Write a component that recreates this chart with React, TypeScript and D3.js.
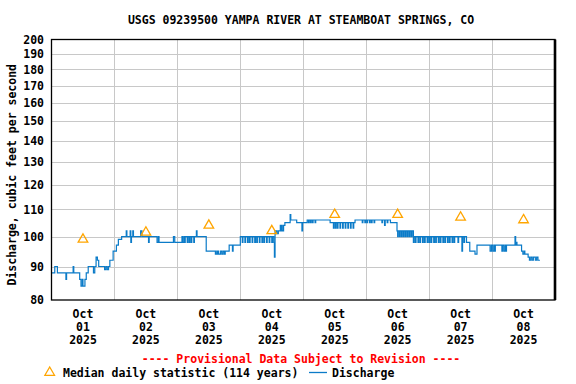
import React from 'react';
import * as d3 from 'd3';

// chart text
const title = 'USGS 09239500 YAMPA RIVER AT STEAMBOAT SPRINGS, CO';
const yTitle = 'Discharge, cubic feet per second';
const provisional = '---- Provisional Data Subject to Revision ----';
const medianLabel = 'Median daily statistic (114 years)';
const flowLabel = 'Discharge';

// axes
const yTicks = [80, 90, 100, 110, 120, 130, 140, 150, 160, 170, 180, 190, 200];
const monthLabel = 'Oct';
const dayLabels = ['01', '02', '03', '04', '05', '06', '07', '08'];
const yearLabel = '2025';

// median daily statistic, one per day (cfs)
const medianCfs = [99, 101.5, 104, 102, 108, 108, 107, 106];

// discharge, step changes as [hour of day, cfs]
const oct01 = [[0, 88], [1.25, 90], [2.25, 88], [5.5, 86], [5.75, 88], [8.25, 90], [8.5, 88], [10.75, 86], [11.25, 84], [11.75, 86], [12, 84], [12.75, 86], [13.25, 88], [14, 90], [16, 88], [16.5, 90], [17, 93], [17.5, 92], [18, 90], [20.25, 89], [20.75, 90], [21.25, 89], [21.75, 90], [22.25, 92], [23.5, 95]];
const oct02 = [[0.75, 97], [1.5, 99], [2.75, 100], [4.5, 102], [4.75, 100], [6, 102], [6.25, 98], [6.5, 100], [7, 102], [7.25, 100], [10, 102], [10.5, 100], [13, 98], [13.25, 100], [16.25, 98], [16.75, 100], [17, 98], [22.5, 100], [23, 98]];
const oct03 = [[1.75, 100], [2, 98], [2.5, 100], [2.75, 98], [3, 100], [3.75, 98], [4, 100], [4.5, 98], [4.75, 100], [5.25, 98], [5.5, 100], [6.25, 98], [6.5, 100], [7.25, 102], [7.5, 100], [11, 95], [14.5, 94], [15, 95], [15.25, 94], [15.5, 95], [15.75, 94], [16.5, 95], [17, 94], [17.5, 95], [18, 94], [18.25, 95], [19.75, 97], [21, 95], [21.25, 97]];
const oct04 = [[0, 100], [0.75, 98], [1, 100], [1.75, 98], [2, 100], [2.75, 98], [3, 100], [3.5, 98], [3.75, 100], [4.5, 98], [4.75, 100], [5.5, 98], [5.75, 100], [6.25, 98], [6.5, 100], [7.25, 98], [7.5, 100], [8.25, 98], [8.5, 100], [9, 98], [9.25, 100], [10, 98], [10.25, 100], [11, 98], [11.25, 100], [12, 98], [12.25, 100], [12.75, 98], [13, 93], [13.25, 102], [13.5, 101], [13.75, 102], [14, 101], [14.5, 102], [15.25, 104], [15.5, 102], [15.75, 104], [16, 102], [16.5, 104], [17, 105], [19, 108], [19.25, 106], [21.5, 105], [23.5, 102], [23.75, 105]];
const oct05 = [[1.5, 106], [2, 105], [2.25, 106], [2.75, 105], [3, 106], [3.5, 105], [3.75, 106], [4.5, 105], [4.75, 106], [10.25, 105], [11.5, 103], [11.75, 105], [12.25, 103], [12.5, 105], [13, 103], [13.25, 105], [14, 103], [14.25, 105], [15, 103], [15.25, 105], [16, 103], [16.25, 105], [17, 103], [17.25, 105], [18, 103], [18.25, 105], [19, 103], [19.25, 105], [19.75, 106], [22.5, 105], [22.75, 106], [23.5, 105], [23.75, 106]];
const oct06 = [[0.25, 105], [0.5, 106], [1.25, 105], [1.5, 106], [2, 105], [2.25, 106], [3, 105], [3.25, 106], [6, 105], [6.25, 106], [7, 104], [7.25, 106], [8, 105], [8.25, 106], [9.25, 105], [11.75, 102], [12, 100], [12.25, 102], [12.75, 100], [13, 102], [13.5, 100], [13.75, 102], [14.25, 100], [14.5, 102], [15, 100], [15.25, 102], [15.75, 100], [16, 102], [16.5, 100], [16.75, 102], [17.25, 100], [17.5, 102], [18, 98], [18.25, 100], [18.75, 98], [19, 100], [19.75, 98], [20, 100], [20.5, 98], [20.75, 100], [21.5, 98], [21.75, 100], [22.25, 98], [22.5, 100], [23.25, 98], [23.5, 100]];
const oct07 = [[0, 98], [0.25, 100], [0.75, 98], [1, 100], [1.75, 98], [2, 100], [2.5, 98], [2.75, 100], [3.5, 98], [3.75, 100], [4.25, 98], [4.5, 100], [5.25, 98], [5.5, 100], [6, 98], [6.25, 100], [7, 98], [7.25, 100], [7.75, 98], [8, 100], [8.75, 98], [9, 100], [9.5, 98], [9.75, 100], [11, 98], [11.25, 100], [12.5, 95], [12.75, 100], [13.25, 98], [13.5, 100], [14.25, 98], [15.5, 95], [17.5, 94], [18.25, 97], [23.25, 95], [23.75, 97]];
const oct08 = [[0.25, 95], [0.75, 97], [1, 95], [1.25, 97], [3.75, 95], [4, 97], [4.5, 95], [5, 97], [5.25, 95], [5.5, 97], [8.75, 100], [9, 97], [9.25, 98], [9.5, 97], [11.25, 95], [11.75, 94], [12.25, 95], [12.5, 94], [13.75, 93], [14.25, 92], [14.75, 93], [15.25, 92], [15.75, 93], [16.5, 92], [17, 93], [17.5, 92], [18.25, 92]];
const dailyFlow = [oct01, oct02, oct03, oct04, oct05, oct06, oct07, oct08];

const W = 576, H = 384;
const left = 51.5, right = 555, top = 39.5, bottom = 300;
const font = "'DejaVu Sans Mono', 'Liberation Mono', monospace";
const blue = '#0b7bc8';
const orange = '#ffa500';

const start = new Date(Date.UTC(2025, 9, 1));
const end = new Date(Date.UTC(2025, 9, 9));

type Pt = { t: Date; v: number };

const App = () => {
  const x = d3.scaleUtc().domain([start, end]).range([left, right]);
  const y = d3.scaleLog().domain([80, 200]).range([bottom, top]);

  const flow: Pt[] = dailyFlow.flatMap((day, i) =>
    day.map(([h, v]) => ({ t: d3.utcMinute.offset(start, Math.round((i * 24 + h) * 60)), v }))
  );
  const line = d3.line<Pt>().x(d => x(d.t)).y(d => y(d.v)).curve(d3.curveStepAfter);

  const days = d3.utcDay.range(start, end);
  const noon = (d: Date) => d3.utcHour.offset(d, 12);
  const tri = d3.symbol().type(d3.symbolTriangle).size(40)();

  return (
    <div style={{ position: 'absolute', left: 0, top: 0 }}>
      <svg width={W} height={H} style={{ display: 'block', background: '#fff' }}
        fontFamily={font} fontWeight="bold" fontSize={11.5}>
        <text x={301} y={24} textAnchor="middle" fill="#000">{title}</text>

        {/* grid */}
        {yTicks.slice(1, -1).map(t => (
          <line key={'h' + t} x1={left} x2={right} y1={Math.round(y(t)) + 0.5} y2={Math.round(y(t)) + 0.5}
            stroke="#c8c8c8" strokeWidth={1} />
        ))}
        {days.slice(1).map(d => (
          <line key={'v' + d.getTime()} x1={Math.round(x(d)) + 0.5} x2={Math.round(x(d)) + 0.5} y1={top} y2={bottom}
            stroke="#c8c8c8" strokeWidth={1} />
        ))}

        {/* discharge */}
        <path d={line(flow) || ''} fill="none" stroke={blue} strokeWidth={1.2} />

        {/* medians */}
        {medianCfs.map((m, i) => (
          <path key={'m' + i} d={tri || ''} transform={`translate(${x(noon(days[i]))},${y(m)})`}
            fill="none" stroke={orange} strokeWidth={1.3} />
        ))}

        {/* frame */}
        <rect x={left} y={top} width={right - left} height={bottom - top} fill="none" stroke="#000" strokeWidth={1.3} />
        <line x1={right} x2={right} y1={top} y2={bottom} stroke="#000" strokeWidth={2.6} />

        {/* y axis */}
        {yTicks.map(t => (
          <text key={'y' + t} x={44} y={y(t)} dy="0.36em" textAnchor="end" fill="#000">{t}</text>
        ))}
        <text transform={`translate(15.5,${(top + bottom) / 2 + 5}) rotate(-90)`} textAnchor="middle" fill="#000">{yTitle}</text>

        {/* x axis */}
        {days.map((d, i) => (
          <g key={'x' + i} transform={`translate(${x(noon(d))},0)`} textAnchor="middle" fill="#000">
            <text y={318}>{monthLabel}</text>
            <text y={331}>{dayLabels[i]}</text>
            <text y={344}>{yearLabel}</text>
          </g>
        ))}

        <text x={301} y={362.5} textAnchor="middle" fill="#ff0000">{provisional}</text>

        {/* legend */}
        <path d={tri || ''} transform="translate(49.7,372.5)" fill="none" stroke={orange} strokeWidth={1.3} />
        <text x={63} y={377} fill="#000">{medianLabel}</text>
        <line x1={309} x2={327} y1={372.5} y2={372.5} stroke={blue} strokeWidth={1.3} />
        <text x={332} y={377} fill="#000">{flowLabel}</text>
      </svg>
    </div>
  );
};

export default App;
